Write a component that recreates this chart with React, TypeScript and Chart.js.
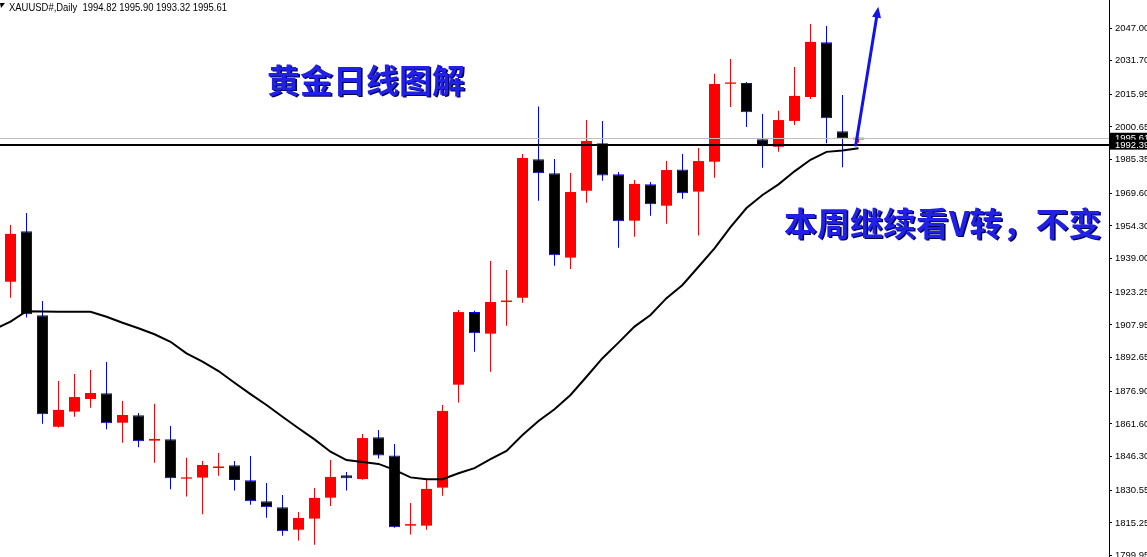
import { useEffect, useRef } from "react";
import { Chart, registerables } from "chart.js";

Chart.register(...registerables);

// Daily XAUUSD bars, oldest first
const opens = [
  1928.2, 1951.8, 1912.5, 1860.3, 1867.4, 1873.3, 1876.0, 1862.2, 1865.7, 1853.8,
  1854.4, 1836.0, 1836.5, 1841.0, 1842.3, 1835.2, 1825.4, 1822.6, 1812.1, 1817.3,
  1827.1, 1837.6, 1835.8, 1855.4, 1846.9, 1814.0, 1814.0, 1831.8, 1880.0, 1914.0,
  1903.9, 1918.7, 1920.7, 1985.5, 1979.0, 1939.5, 1970.8, 1993.0, 1978.5, 1956.8,
  1973.8, 1963.8, 1980.8, 1970.4, 1984.4, 2020.9, 2021.3, 1994.9, 1991.4, 2003.5,
  2014.7, 2040.3, 1998.6, 1994.82,
];
const highs = [
  1954.8, 1960.4, 1919.2, 1881.7, 1885.0, 1886.9, 1890.6, 1872.4, 1866.7, 1871.1,
  1860.7, 1845.8, 1844.3, 1848.0, 1844.3, 1846.6, 1834.0, 1828.4, 1820.4, 1831.6,
  1844.7, 1839.1, 1856.9, 1858.8, 1852.2, 1824.6, 1836.0, 1870.5, 1915.0, 1914.6,
  1937.9, 1933.7, 1988.0, 2010.2, 1985.7, 1979.1, 2003.9, 2003.5, 1979.6, 1975.8,
  1974.9, 1984.7, 1988.0, 1990.8, 2025.6, 2032.5, 2021.7, 2006.7, 2008.3, 2028.7,
  2048.9, 2047.9, 2015.6, 1995.9,
];
const lows = [
  1920.7, 1911.4, 1861.7, 1860.0, 1865.0, 1869.2, 1859.1, 1852.8, 1850.7, 1843.5,
  1831.0, 1827.6, 1819.3, 1837.4, 1830.4, 1823.8, 1817.7, 1809.3, 1807.0, 1805.1,
  1823.2, 1830.4, 1835.5, 1845.4, 1813.0, 1809.8, 1812.1, 1828.0, 1871.6, 1895.4,
  1886.1, 1907.6, 1918.4, 1966.1, 1935.7, 1934.2, 1965.2, 1975.5, 1944.1, 1949.3,
  1959.1, 1955.4, 1967.1, 1949.8, 1976.9, 2010.0, 2000.7, 1981.6, 1989.1, 2001.6,
  2013.8, 1993.0, 1981.8, 1993.32,
];
const closes = [
  1950.6, 1913.0, 1866.1, 1868.2, 1874.2, 1876.1, 1861.9, 1865.8, 1853.5, 1854.6,
  1836.2, 1836.6, 1842.4, 1841.7, 1835.4, 1825.4, 1822.6, 1811.4, 1817.6, 1827.0,
  1836.8, 1836.2, 1855.0, 1846.8, 1813.2, 1814.7, 1831.2, 1867.7, 1914.0, 1904.1,
  1918.7, 1919.4, 1986.1, 1979.0, 1940.6, 1970.2, 1994.1, 1977.9, 1956.5, 1974.0,
  1964.5, 1980.5, 1969.6, 1984.7, 2020.8, 2021.5, 2007.5, 1991.6, 2003.9, 2015.2,
  2040.5, 2004.7, 1995.4, 1995.61,
];

// Moving average, first value belongs to the bar just before the first one shown
const maFirstBar = -1;
const maValues = [
  1905.9, 1909.5, 1914.4, 1914.3, 1914.2, 1914.1, 1914.1, 1911.8, 1909.0, 1906.4,
  1903.6, 1900.1, 1894.7, 1890.8, 1886.4, 1880.9, 1875.6, 1870.5, 1865.0, 1859.6,
  1854.4, 1848.6, 1844.7, 1843.8, 1842.9, 1840.1, 1836.6, 1835.7, 1835.7, 1838.5,
  1840.9, 1845.1, 1849.0, 1856.4, 1863.0, 1868.5, 1875.2, 1883.7, 1892.4, 1899.7,
  1907.2, 1912.6, 1920.5, 1926.7, 1935.2, 1943.8, 1953.8, 1962.7, 1968.8, 1973.8,
  1979.9, 1985.3, 1989.0, 1989.6, 1990.7,
];

const priceTicks = [
  2047.0, 2031.7, 2015.95, 2000.65, 1985.35, 1969.6, 1954.3, 1939.0, 1923.25,
  1907.95, 1892.65, 1876.9, 1861.6, 1846.3, 1830.55, 1815.25, 1799.95,
];

const headerText = "XAUUSD#,Daily  1994.82 1995.90 1993.32 1995.61";
const titleText = "黄金日线图解";
const noteText = "本周继续看V转，不变";

const bidPrice = 1995.61;
const levelPrice = 1992.39;

// Forecast arrow, in bar / price units
const arrowStart = { bar: 52.83, price: 1992.2 };
const arrowEnd = { bar: 54.24, price: 2057.0 };

// Visible window of the chart
const barWindow = { min: -0.65625, max: 68.65625 };
const priceWindow = { min: 1799.32, max: 2060.11 };

const UP = "#ff0000";
const DOWN_FILL = "#000000";
const DOWN_EDGE = "#0000ff";
const AXIS_FONT = '"Liberation Sans", Arial, sans-serif';
const AXIS_SIZE = 9.5;
const CJK_FONT = '"Noto Sans CJK SC", "Noto Sans", sans-serif';

const overlay = {
  id: "overlay",
  afterDatasetsDraw(chart: any) {
    const { ctx, chartArea, scales } = chart;
    const x = scales.x;
    const y = scales.y;
    ctx.save();
    ctx.beginPath();
    ctx.rect(chartArea.left, 0, chartArea.right - chartArea.left, chart.height);
    ctx.clip();

    // bid line
    const yb = Math.round(y.getPixelForValue(bidPrice)) + 0.5;
    ctx.strokeStyle = "#c0c0c0";
    ctx.lineWidth = 1;
    ctx.beginPath();
    ctx.moveTo(chartArea.left, yb);
    ctx.lineTo(chartArea.right, yb);
    ctx.stroke();

    // horizontal level
    const yl = Math.round(y.getPixelForValue(levelPrice));
    ctx.strokeStyle = "#000000";
    ctx.lineWidth = 2;
    ctx.beginPath();
    ctx.moveTo(chartArea.left, yl);
    ctx.lineTo(chartArea.right, yl);
    ctx.stroke();

    // forecast arrow
    const x0 = x.getPixelForValue(arrowStart.bar);
    const y0 = y.getPixelForValue(arrowStart.price);
    const x1 = x.getPixelForValue(arrowEnd.bar);
    const y1 = y.getPixelForValue(arrowEnd.price);
    const ang = Math.atan2(y1 - y0, x1 - x0);
    const headLen = 11;
    const headHalf = 4.5;
    const bx = x1 - headLen * Math.cos(ang);
    const by = y1 - headLen * Math.sin(ang);
    ctx.strokeStyle = "#1414e6";
    ctx.fillStyle = "#1414e6";
    ctx.lineWidth = 3;
    ctx.lineCap = "round";
    ctx.beginPath();
    ctx.moveTo(x0, y0);
    ctx.lineTo(bx, by);
    ctx.stroke();
    ctx.beginPath();
    ctx.moveTo(x1, y1);
    ctx.lineTo(bx + headHalf * Math.sin(ang), by - headHalf * Math.cos(ang));
    ctx.lineTo(bx - headHalf * Math.sin(ang), by + headHalf * Math.cos(ang));
    ctx.closePath();
    ctx.fill();
    ctx.restore();
  },
  afterDraw(chart: any) {
    const { ctx, chartArea, scales } = chart;
    const y = scales.y;
    ctx.save();

    // price tags on the axis
    const tag = (value: number, half: number) => {
      const py = y.getPixelForValue(value);
      const left = chartArea.right + 1;
      ctx.fillStyle = "#000000";
      ctx.fillRect(left, py - half, chart.width - left, half * 2);
      ctx.fillStyle = "#ffffff";
      ctx.font = `${AXIS_SIZE}px ${AXIS_FONT}`;
      ctx.textAlign = "left";
      ctx.textBaseline = "middle";
      ctx.fillText(value.toFixed(2), chartArea.right + 6, py + 0.5);
    };
    tag(bidPrice, 5);
    tag(levelPrice, 5);

    // header
    ctx.fillStyle = "#000000";
    ctx.beginPath();
    ctx.moveTo(0, 3);
    ctx.lineTo(5, 3);
    ctx.lineTo(1, 8);
    ctx.closePath();
    ctx.fill();
    ctx.font = `10px ${AXIS_FONT}`;
    ctx.textAlign = "left";
    ctx.textBaseline = "middle";
    ctx.fillText(headerText, 9, 8, 218);

    // captions
    const caption = (text: string, px: number, py: number) => {
      ctx.font = `bold 33px ${CJK_FONT}`;
      ctx.textAlign = "left";
      ctx.textBaseline = "middle";
      ctx.fillStyle = "#00005a";
      ctx.fillText(text, px + 1.5, py + 1.5);
      ctx.fillStyle = "#2020e6";
      ctx.fillText(text, px, py);
    };
    caption(titleText, 267, 80);
    caption(noteText, 784, 223);
    ctx.restore();
  },
};

export default function App() {
  const canvasRef = useRef<HTMLCanvasElement | null>(null);

  useEffect(() => {
    const canvas = canvasRef.current;
    if (!canvas) return;

    const isUp = opens.map((o, i) => closes[i] >= o);
    const bodies = opens.map((o, i) => ({ x: i, y: [o, closes[i]] }));
    const wicks = lows.map((l, i) => ({ x: i, y: [l, highs[i]] }));
    const ma = maValues.map((v, k) => ({ x: k + maFirstBar, y: v }));

    const chart = new Chart(canvas, {
      type: "bar",
      data: {
        datasets: [
          {
            type: "line",
            label: "MA",
            data: ma,
            borderColor: "#000000",
            borderWidth: 2,
            pointRadius: 0,
            tension: 0,
            order: 0,
          } as any,
          {
            type: "bar",
            label: "Body",
            data: bodies,
            backgroundColor: isUp.map((u) => (u ? UP : DOWN_FILL)),
            borderColor: isUp.map((u) => (u ? UP : DOWN_EDGE)),
            borderWidth: isUp.map((u) => (u ? 0 : 1)),
            borderSkipped: false,
            barThickness: 11,
            grouped: false,
            inflateAmount: 0,
            order: 1,
          } as any,
          {
            type: "bar",
            label: "Wick",
            data: wicks,
            backgroundColor: isUp.map((u) => (u ? UP : DOWN_EDGE)),
            borderWidth: 0,
            barThickness: 1,
            grouped: false,
            inflateAmount: 0,
            order: 2,
          } as any,
        ],
      },
      options: {
        animation: false,
        responsive: false,
        devicePixelRatio: 1,
        events: [],
        layout: { padding: 0 },
        plugins: {
          legend: { display: false },
          tooltip: { enabled: false },
        },
        scales: {
          x: {
            type: "linear",
            min: barWindow.min,
            max: barWindow.max,
            display: false,
            offset: false,
            grid: { display: false },
          },
          y: {
            type: "linear",
            position: "right",
            min: priceWindow.min,
            max: priceWindow.max,
            afterFit(scale: any) {
              scale.width = 38;
              scale.paddingTop = 0;
              scale.paddingBottom = 0;
            },
            afterBuildTicks(scale: any) {
              scale.ticks = priceTicks.map((v) => ({ value: v }));
            },
            ticks: {
              autoSkip: false,
              color: "#000000",
              padding: 3,
              font: { family: AXIS_FONT, size: AXIS_SIZE },
              callback: (v: any) => Number(v).toFixed(2),
            },
            grid: {
              drawOnChartArea: false,
              drawTicks: true,
              tickLength: 3,
              color: "#000000",
            },
            border: { display: true, color: "#000000", width: 1 },
          },
        },
      } as any,
      plugins: [overlay],
    });

    return () => chart.destroy();
  }, []);

  return (
    <div
      style={{
        position: "fixed",
        left: 0,
        top: 0,
        width: 1147,
        height: 557,
        background: "#ffffff",
      }}
    >
      <canvas ref={canvasRef} width={1147} height={557} style={{ display: "block" }} />
    </div>
  );
}
